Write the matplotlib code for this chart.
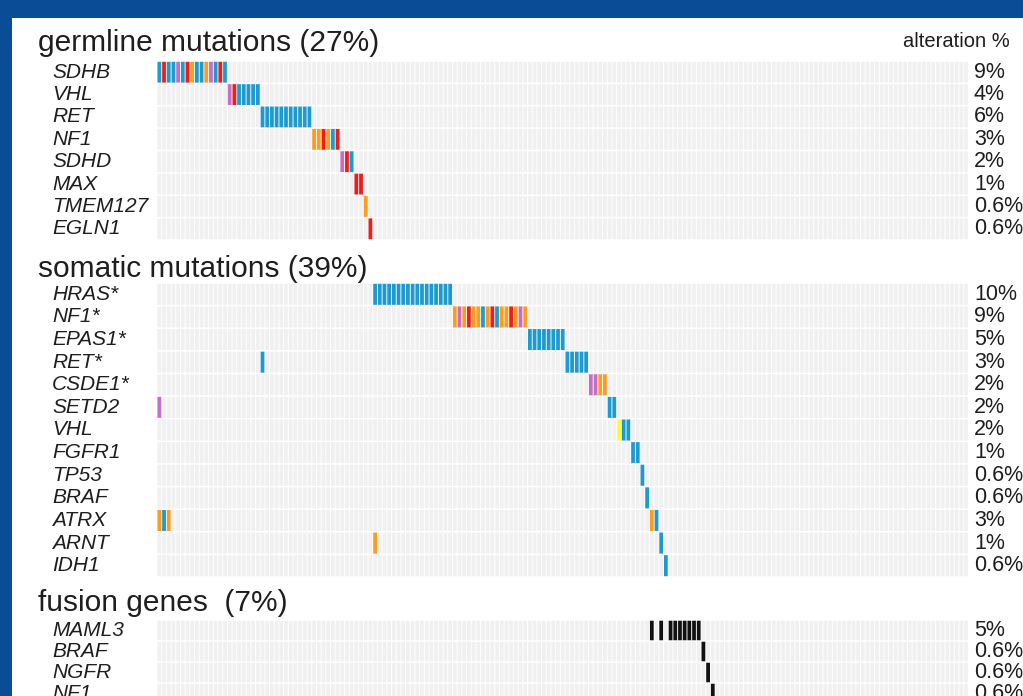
import numpy as np
import matplotlib
matplotlib.use("Agg")
import matplotlib.pyplot as plt
from matplotlib.patches import Rectangle
from matplotlib.transforms import blended_transform_factory

plt.rcParams["font.family"] = ["Liberation Sans", "DejaVu Sans"]

n_samples = 173

# alteration type -> colour
type_colors = {
    "B": "#1d9bd1",  # blue
    "R": "#f31a1a",  # red
    "O": "#ff9b1e",  # orange
    "P": "#c46ec6",  # purple
    "Y": "#ffff2e",  # yellow
    "K": "#111111",  # fusion
}

# germline block
germ_genes = ["SDHB", "VHL", "RET", "NF1", "SDHD", "MAX", "TMEM127", "EGLN1"]
germ_pct = ["9%", "4%", "6%", "3%", "2%", "1%", "0.6%", "0.6%"]
germ_hits = [
    [(0, "BRBBPBROBBOPBRB")],
    [(15, "PRBBBBB")],
    [(22, "BBBBBBBBBBB")],
    [(33, "OOROBR")],
    [(39, "PRB")],
    [(42, "RR")],
    [(44, "O")],
    [(45, "R")],
]

# somatic block
som_genes = ["HRAS*", "NF1*", "EPAS1*", "RET*", "CSDE1*", "SETD2", "VHL",
             "FGFR1", "TP53", "BRAF", "ATRX", "ARNT", "IDH1"]
som_pct = ["10%", "9%", "5%", "3%", "2%", "2%", "2%", "1%", "0.6%", "0.6%",
           "3%", "1%", "0.6%"]
som_hits = [
    [(46, "BBBBBBBBBBBBBBBBB")],
    [(63, "OPOROOBORBOOROPO")],
    [(79, "BBBBBBBB")],
    [(22, "B"), (87, "BBBBB")],
    [(92, "PPOO")],
    [(0, "P"), (96, "BB")],
    [(98, "YBB")],
    [(101, "BB")],
    [(103, "B")],
    [(104, "B")],
    [(0, "OBO"), (105, "OB")],
    [(46, "O"), (107, "B")],
    [(108, "B")],
]

# fusion block
fus_genes = ["MAML3", "BRAF", "NGFR", "NF1"]
fus_pct = ["5%", "0.6%", "0.6%", "0.6%"]
fus_hits = [
    [(105, "K"), (107, "K"), (109, "KKKKKKK")],
    [(116, "K")],
    [(117, "K")],
    [(118, "K")],
]

W, H = 1023, 696
fig = plt.figure(figsize=(W / 100, H / 100), dpi=100)
fig.patch.set_facecolor("#0b4c97")
fig.add_artist(Rectangle((12 / W, 0), 1, 1 - 18 / H, transform=fig.transFigure,
                         facecolor="white", edgecolor="none", zorder=0))

grid_left, grid_w = 157, 811.4
txt = "#1e1e1e"


def section(top, bottom, genes, pct, hits):
    ax = fig.add_axes([grid_left / W, 1 - bottom / H, grid_w / W, (bottom - top) / H])
    n = len(genes)
    ax.set_xlim(0, n_samples)
    ax.set_ylim(n, 0)
    ax.axis("off")
    cols = np.arange(n_samples) + 0.5
    trans = blended_transform_factory(fig.transFigure, ax.transData)
    for r in range(n):
        ax.bar(cols, 0.93, width=0.8, bottom=r + 0.035, color="#f0f0f0",
               linewidth=0, snap=False)
        for start, codes in hits[r]:
            xs = start + np.arange(len(codes)) + 0.5
            ax.bar(xs, 0.93, width=0.8, bottom=r + 0.035,
                   color=[type_colors[c] for c in codes], linewidth=0, snap=False)
        ax.text(52 / W, r + 0.5, genes[r], transform=trans, style="italic",
                fontsize=15, va="center", ha="left", color=txt)
        ax.text(974 / W, r + 0.5, pct[r], transform=trans,
                fontsize=15.5, va="center", ha="left", color=txt)
    return ax


section(61, 240, germ_genes, germ_pct, germ_hits)
section(283, 577, som_genes, som_pct, som_hits)
section(620, 704, fus_genes, fus_pct, fus_hits)

fig.text(38 / W, 1 - 51 / H, "germline mutations (27%)", fontsize=21.5,
         va="baseline", color=txt)
fig.text(38 / W, 1 - 277 / H, "somatic mutations (39%)", fontsize=21.5,
         va="baseline", color=txt)
fig.text(38 / W, 1 - 611 / H, "fusion genes  (7%)", fontsize=21.5,
         va="baseline", color=txt)
fig.text(1010 / W, 1 - 47 / H, "alteration %", fontsize=14.5,
         va="baseline", ha="right", color=txt)

fig.savefig("out.png", dpi=100, facecolor=fig.get_facecolor())
